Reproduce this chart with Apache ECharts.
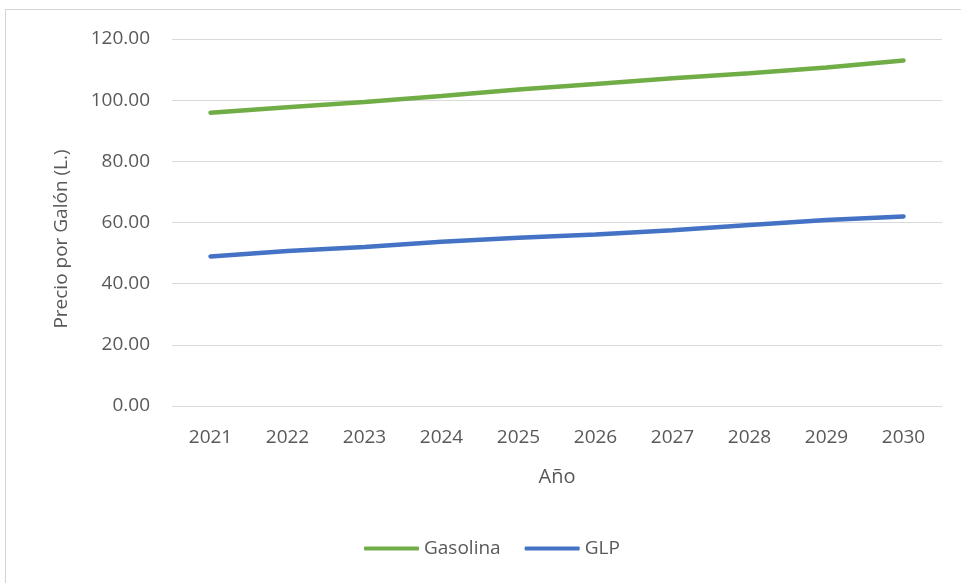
<!DOCTYPE html>
<html>
<head>
<meta charset="utf-8">
<style>
  html, body { margin: 0; padding: 0; background: #ffffff; }
  #chart { width: 961px; height: 583px; }
</style>
<script src="https://cdn.jsdelivr.net/npm/echarts@6/dist/echarts.min.js"></script>
</head>
<body>
<div id="chart"></div>
<script>
// Projected fuel price per gallon, by year
const years = ['2021', '2022', '2023', '2024', '2025', '2026', '2027', '2028', '2029', '2030'];
const gasolina = [95.9, 97.7, 99.4, 101.4, 103.5, 105.3, 107.2, 108.8, 110.7, 113.0];
const glp = [48.9, 50.7, 52.0, 53.7, 55.0, 56.1, 57.5, 59.2, 60.8, 62.0];
const yAxisTitle = 'Precio por Galón (L.)';
const xAxisTitle = 'Año';

const textColor = '#595959';
const fontFamily = '"Open Sans", "Noto Sans", sans-serif';

const chart = echarts.init(document.getElementById('chart'), null, { renderer: 'canvas' });

chart.setOption({
  backgroundColor: '#ffffff',
  animation: false,
  textStyle: { fontFamily: fontFamily, color: textColor },
  graphic: [
    {
      type: 'rect',
      shape: { x: 5.5, y: 9.5, width: 1000, height: 1000 },
      style: { fill: 'none', stroke: '#d4d4d4', lineWidth: 1 },
      silent: true
    },
    {
      // vertical axis title
      type: 'text',
      x: 62,
      y: 239,
      rotation: Math.PI / 2,
      style: {
        text: yAxisTitle,
        fill: textColor,
        font: '19px ' + fontFamily,
        align: 'center',
        verticalAlign: 'middle'
      },
      silent: true
    }
  ],
  grid: { left: 172, right: 19, top: 39, bottom: 177, containLabel: false },
  legend: {
    top: 539,
    left: 364,
    padding: 0,
    itemWidth: 55,
    itemHeight: 4,
    itemGap: 24,
    icon: 'roundRect',
    textStyle: { fontSize: 19, color: textColor, fontFamily: fontFamily },
    data: ['Gasolina', 'GLP']
  },
  xAxis: {
    type: 'category',
    data: years,
    boundaryGap: true,
    name: xAxisTitle,
    nameLocation: 'middle',
    nameGap: 61,
    nameTextStyle: { fontSize: 20, color: textColor },
    axisLine: { show: false },
    axisTick: { show: false },
    axisLabel: { fontSize: 19, color: textColor, margin: 22 }
  },
  yAxis: {
    type: 'value',
    min: 0,
    max: 120,
    interval: 20,
    axisLine: { show: false },
    axisTick: { show: false },
    axisLabel: {
      fontSize: 19,
      color: textColor,
      margin: 22,
      formatter: v => v.toFixed(2)
    },
    splitLine: { lineStyle: { color: '#d9d9d9', width: 1 } }
  },
  series: [
    {
      name: 'Gasolina',
      type: 'line',
      data: gasolina,
      showSymbol: false,
      symbol: 'none',
      lineStyle: { color: '#70ad47', width: 4.5, cap: 'round' },
      itemStyle: { color: '#70ad47' }
    },
    {
      name: 'GLP',
      type: 'line',
      data: glp,
      showSymbol: false,
      symbol: 'none',
      lineStyle: { color: '#4472c4', width: 4.5, cap: 'round' },
      itemStyle: { color: '#4472c4' }
    }
  ]
});
</script>
</body>
</html>
